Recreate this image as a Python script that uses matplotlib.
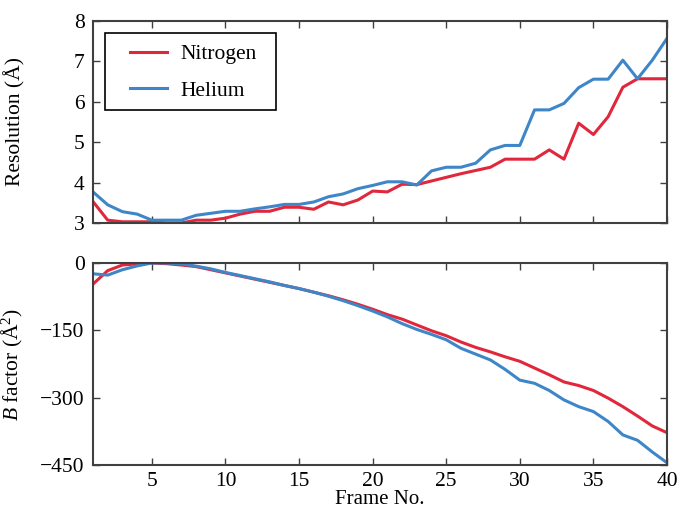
import numpy as np
import matplotlib
matplotlib.use('Agg')
import matplotlib.pyplot as plt
from matplotlib.patches import Rectangle

plt.rcParams['font.family'] = ['Liberation Serif', 'DejaVu Serif']
plt.rcParams['mathtext.fontset'] = 'custom'
plt.rcParams['mathtext.it'] = 'Liberation Serif:italic'
plt.rcParams['mathtext.rm'] = 'Liberation Serif'

frames = np.arange(1, 41)

res_nitrogen = [3.53, 3.07, 3.03, 3.03, 3.03, 3.00, 3.00, 3.07, 3.07, 3.12,
                3.22, 3.29, 3.29, 3.39, 3.39, 3.34, 3.52, 3.45, 3.57, 3.79,
                3.77, 3.96, 3.95, 4.04, 4.13, 4.22, 4.30, 4.38, 4.58, 4.58,
                4.58, 4.81, 4.58, 5.47, 5.19, 5.63, 6.36, 6.57, 6.57, 6.57]
res_helium = [3.77, 3.45, 3.28, 3.22, 3.07, 3.07, 3.07, 3.19, 3.24, 3.29,
              3.29, 3.35, 3.40, 3.46, 3.46, 3.52, 3.65, 3.72, 3.85, 3.93,
              4.02, 4.02, 3.94, 4.29, 4.38, 4.38, 4.48, 4.81, 4.92, 4.92,
              5.80, 5.80, 5.96, 6.35, 6.56, 6.56, 7.03, 6.57, 7.03, 7.57]

bf_nitrogen = [-47, -17, -4.5, -2, 0, -1.5, -4.5, -8, -15, -22,
               -29, -36, -43, -50, -57, -65, -73, -82, -92, -103,
               -115, -125, -138, -151, -162, -176, -188, -198, -209, -219,
               -234, -249, -265, -273, -284, -301, -320, -341, -363, -378]
bf_helium = [-24, -27, -15, -6.5, 0, 0, -2, -7, -13, -21,
             -28, -35, -42, -50, -57, -65, -74, -84, -95, -107,
             -120, -135, -148, -159, -171, -190, -203, -216, -237, -261,
             -268, -284, -305, -320, -331, -353, -383, -395, -421, -445]

red = '#e1273b'
blue = '#3e86c8'
spine_color = '#404040'
fs = 15.5

fig = plt.figure(figsize=(6.77, 5.09), dpi=100)
ax1 = fig.add_axes([93 / 677, 1 - 223 / 509, (667 - 93) / 677, (223 - 21) / 509])
ax2 = fig.add_axes([93 / 677, 1 - 465 / 509, (667 - 93) / 677, (465 - 263) / 509])

ax1.plot(frames, res_nitrogen, color=red, lw=2.2, label='Nitrogen')
ax1.plot(frames, res_helium, color=blue, lw=2.2, label='Helium')
ax2.plot(frames, bf_nitrogen, color=red, lw=2.2)
ax2.plot(frames, bf_helium, color=blue, lw=2.2)

for ax in (ax1, ax2):
    ax.set_xlim(1, 40)
    ax.set_xticks(np.arange(5, 41, 5))
    ax.tick_params(direction='in', top=True, right=True, length=5, width=1,
                   color=spine_color, labelsize=fs, pad=6)
    ax.tick_params(axis='x', pad=5)
    for s in ax.spines.values():
        s.set_linewidth(1.5)
        s.set_color(spine_color)

ax1.set_ylim(3, 8)
ax1.set_yticks(np.arange(3, 9, 1))
ax1.tick_params(labelbottom=False)
ax1.set_ylabel('Resolution (Å)', fontsize=fs)
ax1.yaxis.set_label_coords(-0.118, 0.5)

ax2.set_ylim(-450, 0)
ax2.set_yticks([-450, -300, -150, 0])
ax2.set_yticklabels(['\u2212450', '\u2212300', '\u2212150', '0'])
ax2.set_ylabel('$B$ factor (Å$^2$)', fontsize=fs)
ax2.yaxis.set_label_coords(-0.118, 0.5)
ax2.set_xlabel('Frame No.', fontsize=15, labelpad=-0.5)

# legend: content without frame, box drawn separately (wider than tall padding)
leg = ax1.legend(loc='upper left', bbox_to_anchor=(0.064, 0.885), fontsize=fs,
                 frameon=False, handlelength=1.75, borderpad=0, labelspacing=0.75,
                 borderaxespad=0, handletextpad=0.6)
ax1.add_patch(Rectangle((0.021, 0.559), 0.298, 0.382, transform=ax1.transAxes,
                        fill=False, edgecolor='black', linewidth=1.2, zorder=5))

fig.savefig('out.png', dpi=100)
